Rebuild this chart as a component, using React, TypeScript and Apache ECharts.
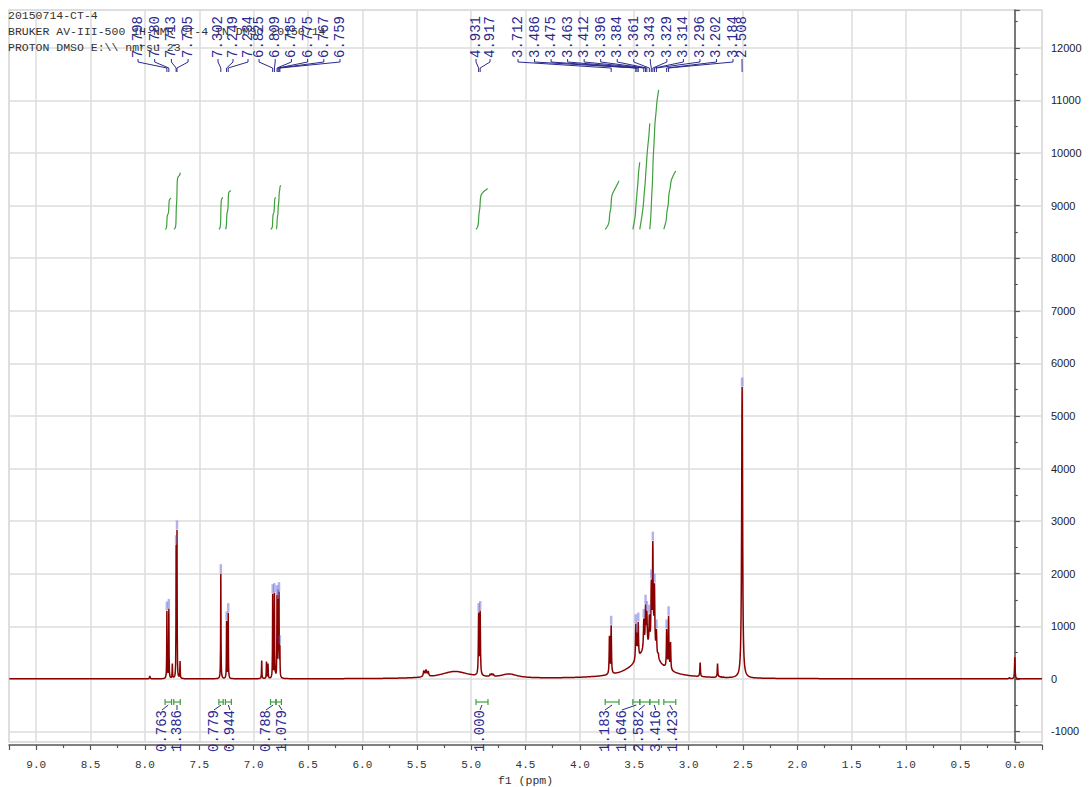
import React, { useEffect, useRef } from "react";
import * as echarts from "echarts";

// 1H resonances: chemical shift (ppm), apex intensity, half-width at half-height (ppm)
const lineShifts = [
  7.955, 7.798, 7.78, 7.748, 7.713, 7.705, 7.677, 7.302, 7.249, 7.234,
  6.926, 6.882, 6.868, 6.825, 6.809, 6.785, 6.775, 6.767, 6.759,
  5.435, 5.415, 5.395, 4.931, 4.917, 4.825, 4.81, 4.795,
  3.728, 3.712, 3.486, 3.475, 3.463, 3.412, 3.396, 3.384, 3.361, 3.343, 3.329, 3.314, 3.296, 3.279,
  3.202, 3.184, 3.166, 2.894, 2.734, 2.718, 2.7, 2.682, 2.508, 0.05, 0.0,
];
const lineApex = [
  60, 1290, 1340, 290, 2550, 2830, 340, 2000, 1100, 1260,
  350, 330, 290, 1620, 1640, 1600, 1520, 1660, 650,
  160, 180, 150, 1260, 1300, 95, 110, 95,
  820, 1020, 1050, 880, 1080, 1150, 1420, 1300, 1230, 1900, 2620, 1820, 950, 500,
  950, 1200, 700, 310, 290, 60, 45, 40, 5550, 40, 410,
];
const lineHalfWidths = [
  0.003, 0.0018, 0.0018, 0.002, 0.0016, 0.0016, 0.002, 0.0018, 0.0018, 0.0018,
  0.002, 0.002, 0.002, 0.0018, 0.0018, 0.0018, 0.0018, 0.0018, 0.0018,
  0.006, 0.006, 0.006, 0.003, 0.003, 0.004, 0.004, 0.004,
  0.003, 0.003, 0.003, 0.003, 0.003, 0.004, 0.004, 0.004, 0.004, 0.004, 0.004, 0.004, 0.004, 0.004,
  0.003, 0.003, 0.003, 0.003, 0.003, 0.003, 0.003, 0.003, 0.005, 0.003, 0.003,
];

// Broad envelopes (exchangeable OH / water)
const broadShifts = [5.15, 4.65, 3.38, 3.4];
const broadHeights = [135, 75, 480, 70];
const broadHalfWidths = [0.16, 0.09, 0.12, 0.25];

// Peak-picking labels as printed
const pickedLabels = [
  "7.798", "7.780", "7.713", "7.705",
  "7.302", "7.249", "7.234",
  "6.825", "6.809", "6.785", "6.775", "6.767", "6.759",
  "4.931", "4.917",
  "3.712", "3.486", "3.475", "3.463", "3.412", "3.396", "3.384", "3.361",
  "3.343", "3.329", "3.314", "3.296", "3.202", "3.184",
  "2.508",
];

// Integral regions (ppm, high -> low) and their normalised values
const integralFrom = [7.815, 7.735, 7.32, 7.26, 6.845, 6.793, 4.955, 3.767, 3.513, 3.449, 3.357, 3.228];
const integralTo = [7.755, 7.675, 7.28, 7.205, 6.797, 6.745, 4.845, 3.64, 3.449, 3.357, 3.274, 3.118];
const integralValues = [0.763, 1.386, 0.779, 0.944, 0.788, 1.079, 1.0, 1.183, 1.646, 2.582, 3.416, 1.423];

const headerLines = [
  "20150714-CT-4",
  "BRUKER AV-III-500 1H-NMR CT-4 IN DMSO 20150714",
  "PROTON DMSO E:\\\\ nmrsu 23",
];

// ---- layout / style ----
const MONO = "'Liberation Mono', 'DejaVu Sans Mono', monospace";
const SANS = "'Liberation Sans', Arial, sans-serif";
const NAVY = "#2a2a8e";
const GREEN = "#3d9f3d";
const SPEC = "#880000";
// label columns: [first x, spacing, count]
const PICK_COLUMNS: [number, number, number][] = [
  [138, 16.7, 4], [218, 15, 3], [259, 16.2, 6], [476, 14, 2], [518, 16.54, 14], [742, 0, 1],
];
const INTEGRAL_COLUMNS: [number, number, number][] = [
  [162, 15, 2], [214, 16, 2], [266, 16, 2], [480, 0, 1], [605, 16.9, 5],
];
const INTEGRAL_BASE = 8550; // intensity level where integral curves start
const INTEGRAL_UNIT = 780; // curve rise for an integral of 1.000

const expandColumns = (cols: [number, number, number][]) => {
  const out: number[] = [];
  cols.forEach(([x0, step, n]) => {
    for (let i = 0; i < n; i++) out.push(x0 + i * step);
  });
  return out;
};

const lor = (x: number, c: number, w: number) => {
  const d = (x - c) / w;
  return 1 / (1 + d * d);
};
const broad = (x: number) =>
  broadShifts.reduce((s, c, i) => s + broadHeights[i] * lor(x, c, broadHalfWidths[i]), 0);

// line amplitudes so that the summed curve reaches each apex value
const amps = (() => {
  const n = lineShifts.length;
  const a = lineApex.slice();
  for (let it = 0; it < 80; it++) {
    for (let i = 0; i < n; i++) {
      let s = broad(lineShifts[i]);
      for (let j = 0; j < n; j++) if (j !== i) s += a[j] * lor(lineShifts[i], lineShifts[j], lineHalfWidths[j]);
      a[i] = Math.max(0, lineApex[i] - s);
    }
  }
  return a;
})();

const intensity = (x: number) => {
  let s = broad(x);
  for (let i = 0; i < lineShifts.length; i++) s += amps[i] * lor(x, lineShifts[i], lineHalfWidths[i]);
  return s;
};

const spectrumData = (() => {
  const xs: number[] = [];
  for (let k = 0; k <= 3800; k++) xs.push(-0.25 + k * 0.0025);
  lineShifts.forEach((c, i) => {
    const w = lineHalfWidths[i];
    [-3, -1.5, -0.7, -0.3, 0, 0.3, 0.7, 1.5, 3].forEach((o) => xs.push(c + o * w));
  });
  xs.sort((p, q) => p - q);
  return xs.map((x) => [x, intensity(x)]);
})();

const integralCurves = integralFrom.map((from, k) => {
  const to = integralTo[k];
  const steps = 300;
  const h = (from - to) / steps;
  const pts: number[][] = [];
  let cum = 0;
  const cums: number[] = [0];
  for (let i = 1; i <= steps; i++) {
    const a = from - (i - 1) * h;
    const b = from - i * h;
    cum += ((intensity(a) + intensity(b)) / 2) * h;
    cums.push(cum);
  }
  for (let i = 0; i <= steps; i++) {
    pts.push([from - i * h, INTEGRAL_BASE + (cums[i] / cum) * integralValues[k] * INTEGRAL_UNIT]);
  }
  return pts;
});

const markerData = pickedLabels.map((t) => {
  const v = parseFloat(t);
  return [v, intensity(v)];
});

export default function App() {
  const ref = useRef<HTMLDivElement>(null);

  useEffect(() => {
    const el = ref.current;
    if (!el) return;
    const chart = echarts.init(el, null, { renderer: "svg" });

    const series: any[] = [
      {
        type: "line",
        data: spectrumData,
        showSymbol: false,
        symbol: "none",
        silent: true,
        z: 3,
        lineStyle: { color: SPEC, width: 1.5 },
      },
      {
        type: "scatter",
        data: markerData,
        symbol: "rect",
        symbolSize: [2.5, 9],
        symbolOffset: [0, -5],
        silent: true,
        z: 4,
        itemStyle: { color: "rgba(95,95,215,0.6)" },
      },
      ...integralCurves.map((pts) => ({
        type: "line",
        data: pts,
        showSymbol: false,
        symbol: "none",
        silent: true,
        z: 3,
        lineStyle: { color: GREEN, width: 1.2 },
      })),
    ];

    chart.setOption({
      animation: false,
      grid: {
        left: 9,
        right: 48,
        top: 10,
        bottom: 45,
        show: true,
        borderColor: "#d8d8d8",
        borderWidth: 1.5,
        containLabel: false,
        outerBoundsMode: "none",
      },
      xAxis: {
        type: "value",
        inverse: true,
        min: -0.25,
        max: 9.25,
        splitNumber: 19,
        position: "bottom",
        offset: 3,
        axisLine: { onZero: false, lineStyle: { color: "#555", width: 1.5 } },
        axisTick: { length: 5, lineStyle: { color: "#555", width: 1.2 } },
        minorTick: { show: true, splitNumber: 2, length: 3, lineStyle: { color: "#555", width: 1.2 } },
        splitLine: { show: true, lineStyle: { color: "#dcdcdc", width: 1.5 } },
        axisLabel: {
          showMinLabel: false,
          showMaxLabel: false,
          formatter: (v: number) => v.toFixed(1),
          fontFamily: MONO,
          fontSize: 11,
          color: "#333",
          margin: 14,
        },
        name: "f1 (ppm)",
        nameLocation: "middle",
        nameGap: 28,
        nameTextStyle: { fontFamily: MONO, fontSize: 11.5, color: "#333" },
      },
      yAxis: {
        type: "value",
        position: "right",
        min: -1200,
        max: 12720,
        splitNumber: 14,
        offset: 6,
        axisLine: { show: true, lineStyle: { color: "#555", width: 1.5 } },
        axisTick: { show: true, length: 5, lineStyle: { color: "#555", width: 1.2 } },
        minorTick: { show: true, splitNumber: 2, length: 3, lineStyle: { color: "#555", width: 1.2 } },
        splitLine: { show: true, lineStyle: { color: "#dcdcdc", width: 1.5 } },
        axisLabel: {
          showMinLabel: false,
          showMaxLabel: false,
          formatter: (v: number) => String(Math.round(v)),
          fontFamily: SANS,
          fontSize: 11,
          color: "#222",
          margin: 3,
        },
      },
      series,
    });

    const px = (v: number) => chart.convertToPixel({ xAxisIndex: 0 }, v) as number;

    const graphic: any[] = [];
    headerLines.forEach((t, i) => {
      graphic.push({
        type: "text",
        x: 8,
        y: 15 + i * 16,
        silent: true,
        z: 5,
        style: {
          text: t,
          fontFamily: MONO,
          fontSize: 11.5,
          fill: "#333",
          align: "left",
          verticalAlign: "middle",
          textAlign: "left",
          textVerticalAlign: "middle",
        },
      });
    });

    // peak-picking labels with their connectors
    const pickX = expandColumns(PICK_COLUMNS);
    pickedLabels.forEach((t, i) => {
      const lx = pickX[i];
      const peakX = px(parseFloat(t));
      graphic.push({
        type: "text",
        x: lx,
        y: 58,
        rotation: Math.PI / 2,
        silent: true,
        z: 6,
        style: {
          text: t,
          fontFamily: MONO,
          fontSize: 14,
          fill: NAVY,
          align: "left",
          verticalAlign: "middle",
          textAlign: "left",
          textVerticalAlign: "middle",
        },
      });
      graphic.push({
        type: "polyline",
        silent: true,
        z: 6,
        shape: { points: [[lx, 59], [lx, 62], [peakX, 68], [peakX, 72]] },
        style: { stroke: NAVY, lineWidth: 1, fill: "none" },
      });
    });

    // integral brackets and values
    const intX = expandColumns(INTEGRAL_COLUMNS);
    integralValues.forEach((v, i) => {
      const x1 = px(integralFrom[i]);
      const x2 = px(integralTo[i]);
      const bx = (x1 + x2) / 2;
      const lx = intX[i];
      graphic.push({
        type: "polyline",
        silent: true,
        z: 6,
        shape: { points: [[x1, 699], [x1, 705]] },
        style: { stroke: GREEN, lineWidth: 1.2, fill: "none" },
      });
      graphic.push({
        type: "polyline",
        silent: true,
        z: 6,
        shape: { points: [[x2, 699], [x2, 705]] },
        style: { stroke: GREEN, lineWidth: 1.2, fill: "none" },
      });
      graphic.push({
        type: "polyline",
        silent: true,
        z: 6,
        shape: { points: [[x1, 702], [x2, 702]] },
        style: { stroke: GREEN, lineWidth: 1.2, fill: "none" },
      });
      graphic.push({
        type: "polyline",
        silent: true,
        z: 6,
        shape: { points: [[bx, 705], [lx, 710]] },
        style: { stroke: NAVY, lineWidth: 1, fill: "none" },
      });
      graphic.push({
        type: "text",
        x: lx,
        y: 752,
        rotation: Math.PI / 2,
        silent: true,
        z: 6,
        style: {
          text: v.toFixed(3),
          fontFamily: MONO,
          fontSize: 14,
          fill: NAVY,
          align: "left",
          verticalAlign: "middle",
          textAlign: "left",
          textVerticalAlign: "middle",
        },
      });
    });

    chart.setOption({ graphic });

    return () => {
      chart.dispose();
    };
  }, []);

  return (
    <div
      ref={ref}
      style={{ position: "fixed", left: 0, top: 0, width: 1090, height: 787, background: "#fff" }}
    />
  );
}
